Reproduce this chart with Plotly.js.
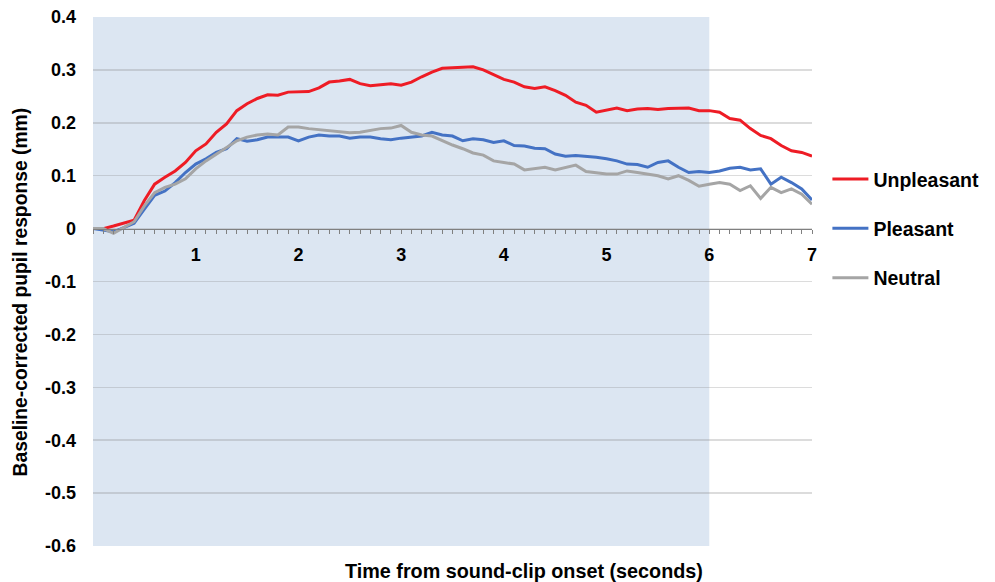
<!DOCTYPE html>
<html>
<head>
<meta charset="utf-8">
<script src="https://cdn.plot.ly/plotly-3.0.1.min.js"></script>
<style>html,body{margin:0;padding:0;background:#fff;}#chart{width:995px;height:582px;}</style>
</head>
<body>
<div id="chart"></div>
<script>
// Time from sound-clip onset (seconds), 0.1 s steps
const time = [];
for (let i = 0; i <= 70; i++) time.push(+(i / 10).toFixed(1));

const unpleasant = [
  0.000, 0.000, 0.005, 0.011, 0.016, 0.053, 0.084, 0.097, 0.109, 0.125,
  0.147, 0.160, 0.182, 0.198, 0.223, 0.236, 0.246, 0.253, 0.252, 0.258,
  0.259, 0.259, 0.266, 0.277, 0.279, 0.282, 0.274, 0.270, 0.272, 0.274,
  0.271, 0.277, 0.287, 0.296, 0.303, 0.304, 0.305, 0.306, 0.300, 0.291,
  0.282, 0.277, 0.268, 0.265, 0.268, 0.261, 0.252, 0.239, 0.233, 0.220,
  0.224, 0.228, 0.223, 0.226, 0.227, 0.225, 0.227, 0.228, 0.228, 0.223,
  0.223, 0.220, 0.208, 0.205, 0.189, 0.176, 0.170, 0.157, 0.147, 0.144,
  0.137
];
const pleasant = [
  0.000, -0.003, -0.006, 0.002, 0.010, 0.037, 0.063, 0.071, 0.087, 0.106,
  0.122, 0.132, 0.144, 0.151, 0.170, 0.165, 0.168, 0.173, 0.173, 0.173,
  0.166, 0.173, 0.177, 0.175, 0.175, 0.171, 0.173, 0.173, 0.170, 0.168,
  0.171, 0.173, 0.175, 0.182, 0.177, 0.175, 0.166, 0.170, 0.168, 0.163,
  0.166, 0.157, 0.156, 0.152, 0.151, 0.141, 0.137, 0.138, 0.137, 0.135,
  0.132, 0.128, 0.122, 0.121, 0.116, 0.125, 0.128, 0.116, 0.106, 0.108,
  0.106, 0.109, 0.114, 0.116, 0.111, 0.113, 0.084, 0.097, 0.087, 0.075,
  0.054
];
const neutral = [
  0.000, 0.000, -0.009, 0.002, 0.013, 0.043, 0.068, 0.078, 0.084, 0.094,
  0.113, 0.128, 0.141, 0.154, 0.166, 0.173, 0.177, 0.179, 0.177, 0.192,
  0.192, 0.189, 0.187, 0.185, 0.182, 0.181, 0.182, 0.185, 0.189, 0.190,
  0.195, 0.182, 0.177, 0.175, 0.166, 0.158, 0.151, 0.143, 0.139, 0.128,
  0.125, 0.122, 0.111, 0.113, 0.116, 0.111, 0.116, 0.120, 0.108, 0.105,
  0.103, 0.103, 0.109, 0.106, 0.103, 0.100, 0.094, 0.100, 0.091, 0.080,
  0.084, 0.087, 0.084, 0.072, 0.081, 0.057, 0.078, 0.068, 0.075, 0.065,
  0.046
];

const seriesNames = ["Unpleasant", "Pleasant", "Neutral"];
const seriesColors = ["#ee1c25", "#4472c4", "#a5a5a5"];
const seriesValues = [unpleasant, pleasant, neutral];

const xTickVals = [1, 2, 3, 4, 5, 6, 7];
const yTickVals = [-0.6, -0.5, -0.4, -0.3, -0.2, -0.1, 0, 0.1, 0.2, 0.3, 0.4];
const yTickText = ["-0.6", "-0.5", "-0.4", "-0.3", "-0.2", "-0.1", "0", "0.1", "0.2", "0.3", "0.4"];

const F = "Liberation Sans, Arial, sans-serif";

const traces = seriesNames.map((n, i) => ({
  x: time, y: seriesValues[i], type: "scatter", mode: "lines", name: "<b>" + n + "</b>",
  legendgroup: n,
  line: { color: seriesColors[i], width: 3 }
}));

const layout = {
  width: 995, height: 582,
  margin: { l: 93, r: 182, t: 17, b: 36 },
  paper_bgcolor: "#ffffff", plot_bgcolor: "#ffffff",
  showlegend: true,
  legend: {
    x: 1.02, xanchor: "left", y: 0.73, yanchor: "top",
    font: { family: F, size: 19.5, color: "#000" },
    traceorder: "grouped", tracegroupgap: 21, itemwidth: 36,
    bgcolor: "rgba(0,0,0,0)"
  },
  xaxis: {
    range: [0, 7], anchor: "free", position: 0.6,
    tickvals: xTickVals, ticktext: xTickVals.map(v => "<b>" + v + "</b>"),
    ticks: "outside", ticklen: 4, tickcolor: "#808080", tickwidth: 1,
    minor: { dtick: 0.1, tick0: 0, ticks: "outside", ticklen: 4, tickcolor: "#808080", tickwidth: 1, showgrid: false },
    showline: true, linecolor: "#808080", linewidth: 1.5,
    showgrid: false, zeroline: false, ticklabelstandoff: 5,
    tickfont: { family: F, size: 18, color: "#000" }
  },
  yaxis: {
    range: [-0.6, 0.4], tickvals: yTickVals, ticktext: yTickText.map(v => "<b>" + v + "</b>"),
    showgrid: true, gridcolor: "rgba(140,140,140,0.3)", gridwidth: 1.5,
    zeroline: false, showline: false, ticks: "",
    ticklabelstandoff: 16,
    tickfont: { family: F, size: 18, color: "#000" }
  },
  shapes: [{
    type: "rect", xref: "x", yref: "y", x0: 0, x1: 6, y0: -0.6, y1: 0.4,
    fillcolor: "#dce6f2", line: { width: 0 }, layer: "below"
  }],
  annotations: [
    { text: "<b>Baseline-corrected pupil response (mm)</b>", xref: "paper", yref: "paper",
      x: -0.101, y: 0.48, textangle: -90, showarrow: false, xanchor: "center", yanchor: "middle",
      font: { family: F, size: 19.3, color: "#000" } },
    { text: "<b>Time from sound-clip onset (seconds)</b>", xref: "paper", yref: "paper",
      x: 0.6, y: -0.047, showarrow: false, xanchor: "center", yanchor: "middle",
      font: { family: F, size: 19.8, color: "#000" } }
  ]
};

Plotly.newPlot("chart", traces, layout, { displayModeBar: false, staticPlot: true });
</script>
</body>
</html>
